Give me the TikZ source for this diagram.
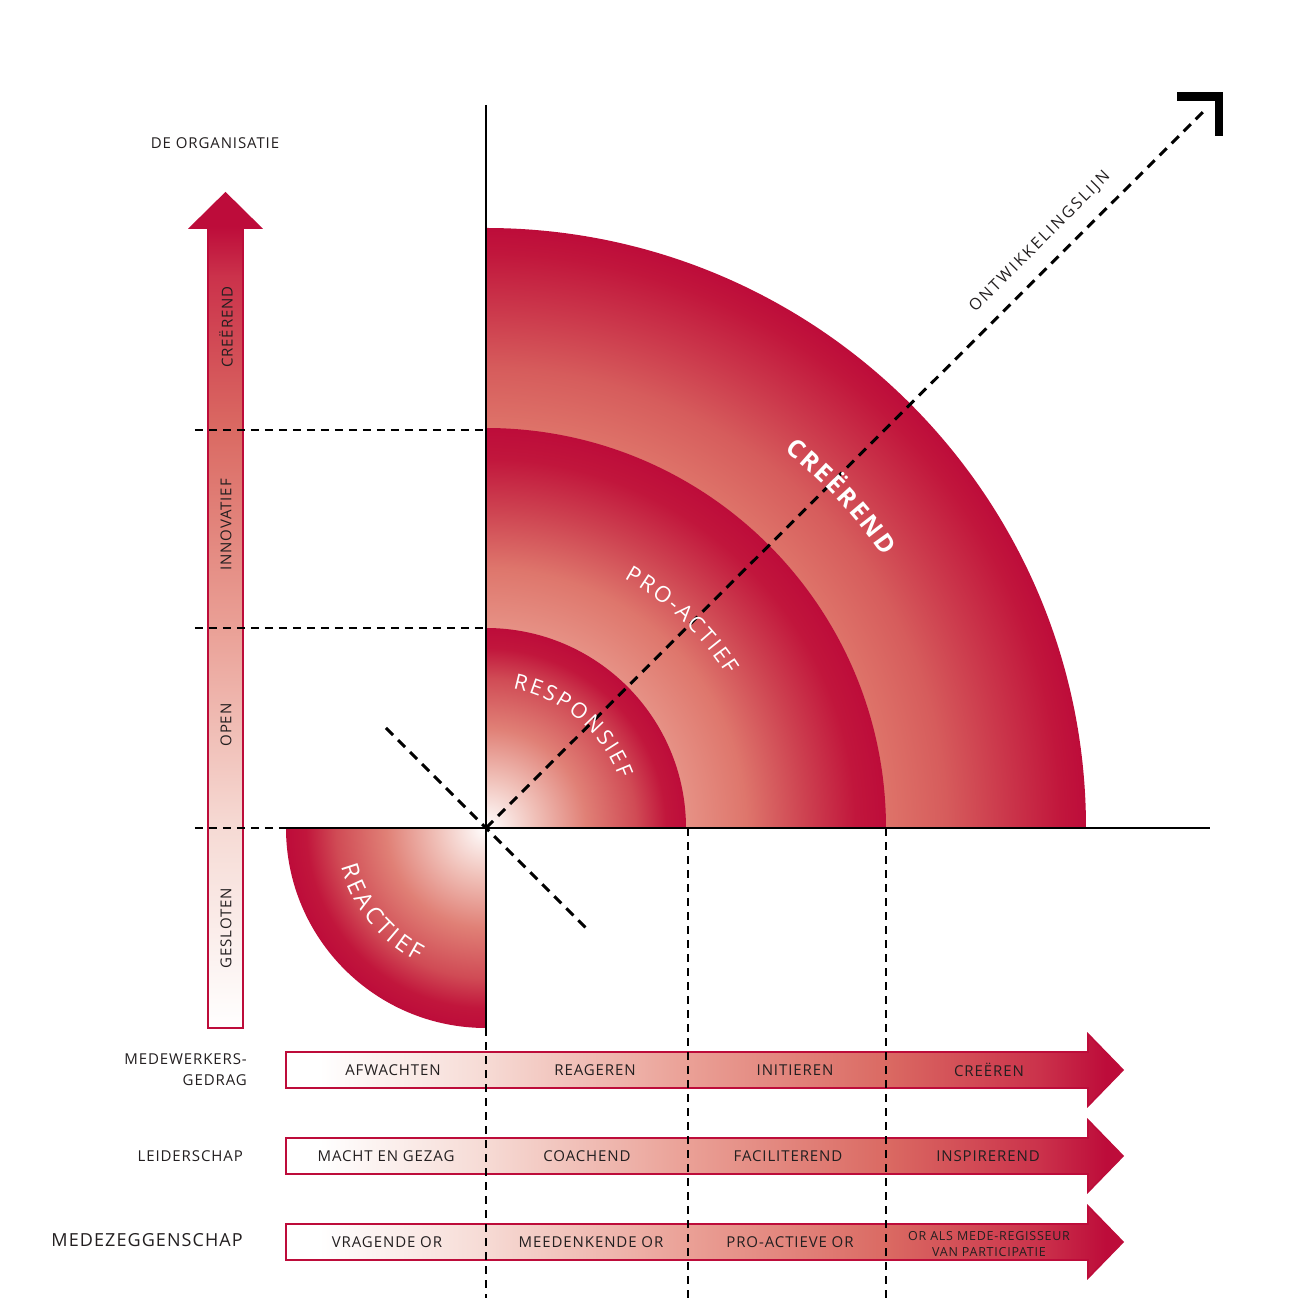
\documentclass[tikz,border=0pt]{standalone}
\usepackage{fontspec}
\setmainfont{Open Sans}
\newfontfamily\lab{Open Sans}[LetterSpace=6]
\newfontfamily\labw{Open Sans}[LetterSpace=14]
\newfontfamily\ringfnt{Open Sans}

\definecolor{crim}{RGB}{189,12,58}
\definecolor{crimb}{RGB}{193,22,60}
\definecolor{txt}{RGB}{35,31,32}
\definecolor{rra}{RGB}{240,192,184}
\definecolor{rrb}{RGB}{224,128,118}
\definecolor{rrc}{RGB}{208,75,85}
\definecolor{ppa}{RGB}{230,145,133}
\definecolor{ppb}{RGB}{222,118,108}
\definecolor{ppc}{RGB}{205,65,80}
\definecolor{cca}{RGB}{222,115,105}
\definecolor{ccb}{RGB}{214,92,92}
\definecolor{ccc}{RGB}{203,55,75}
\definecolor{rda}{RGB}{203,50,75}
\definecolor{hpa}{RGB}{246,218,212}
\definecolor{hpb}{RGB}{234,160,150}
\definecolor{hpc}{RGB}{218,105,98}

\pgfdeclareradialshading{ringR}{\pgfpointorigin}{color(0bp)=(white); color(6.25bp)=(rra); color(12.5bp)=(rrb); color(18.75bp)=(rrc); color(22.5bp)=(crimb); color(25bp)=(crim); color(50bp)=(crim)}
\pgfdeclareradialshading{ringP}{\pgfpointorigin}{color(0bp)=(ppa); color(12.5bp)=(ppa); color(16.25bp)=(ppb); color(20bp)=(ppc); color(23.1bp)=(crimb); color(25bp)=(crim); color(50bp)=(crim)}
\pgfdeclareradialshading{ringC}{\pgfpointorigin}{color(0bp)=(cca); color(16.67bp)=(cca); color(19.17bp)=(ccb); color(21.67bp)=(ccc); color(23.96bp)=(crimb); color(25bp)=(crim); color(50bp)=(crim)}
\pgfdeclarehorizontalshading{harr}{100bp}{color(0bp)=(white); color(27bp)=(white); color(37bp)=(hpa); color(49bp)=(hpb); color(61bp)=(hpc); color(70bp)=(rda); color(74bp)=(crim); color(100bp)=(crim)}
\pgfdeclareverticalshading{varr}{100bp}{color(0bp)=(white); color(25bp)=(white); color(37bp)=(hpa); color(49bp)=(hpb); color(61bp)=(hpc); color(70bp)=(rda); color(73bp)=(crim); color(100bp)=(crim)}

% letters along an arc: #1 name, #2 baseline radius, #3 centre angle, #4 sign (-1 clockwise),
% #5 tracking, #6 rotation offset, #7 style, #8 list letter/width(1/1000 em); font size in \arcfs
\newcommand\arcword[8]{%
  \xdef\arctot{0}%
  \foreach \L/\W in {#8} {\pgfmathsetmacro\arctmp{\arctot+\W/1000*\arcfs+#5}\xdef\arctot{\arctmp}}%
  \pgfmathsetmacro\arctmp{\arctot-#5}\xdef\arctot{\arctmp}%
  \pgfmathsetmacro\arctmp{#3-(#4)*(\arctot/2)/#2*57.29578}\xdef\arcstart{\arctmp}%
  \xdef\arcpos{0}%
  \foreach \L/\W [count=\k] in {#8} {%
    \pgfmathsetmacro\arcmid{\arcpos+\W/2000*\arcfs}%
    \pgfmathsetmacro\arcang{\arcstart+(#4)*\arcmid/#2*57.29578}%
    \node[#7, anchor=base, rotate=\arcang+#6] (#1\k) at (\arcang:#2) {\L};%
    \pgfmathsetmacro\arctmp{\arcpos+\W/1000*\arcfs+#5}%
    \xdef\arcpos{\arctmp}%
  }%
}

\begin{document}
\begin{tikzpicture}[x=1pt,y=1pt,
  lbl/.style={font=\lab\fontsize{15}{21}\selectfont, text=txt, inner sep=0pt},
  bigl/.style={font=\lab\fontsize{18}{21}\selectfont, text=txt, inner sep=0pt},
  albl/.style={font=\lab\fontsize{15}{17}\selectfont, text=txt, inner sep=0pt},
  dlbl/.style={font=\labw\fontsize{16}{17}\selectfont, text=txt, inner sep=0pt},
  small/.style={font=\lab\fontsize{12.5}{16}\selectfont, text=txt, inner sep=0pt, align=center},
  rlA/.style={font=\ringfnt\fontsize{21.5}{24}\selectfont, text=white, inner sep=0pt},
  rlB/.style={font=\ringfnt\fontsize{22}{24}\selectfont, text=white, inner sep=0pt},
  rlC/.style={font=\ringfnt\bfseries\fontsize{25}{28}\selectfont, text=white, inner sep=0pt},
  rlD/.style={font=\ringfnt\fontsize{23.5}{26}\selectfont, text=white, inner sep=0pt},
  thindash/.style={line width=1.6pt, dash pattern=on 8pt off 6pt},
  thickdash/.style={line width=3pt, dash pattern=on 10pt off 7pt},
  axis/.style={line width=2.6pt, black},
  arrowbox/.style={shading=harr, draw=crim, line width=1.6pt},
]
\useasboundingbox[fill=white] (-486,-470) rectangle (810,828);

% rings
\begin{scope}
  \clip (0,0) -- (600,0) arc[start angle=0, end angle=90, radius=600] -- cycle;
  \shade[shading=ringC] (-600,-600) rectangle (600,600);
\end{scope}
\begin{scope}
  \clip (0,0) -- (400,0) arc[start angle=0, end angle=90, radius=400] -- cycle;
  \shade[shading=ringP] (-400,-400) rectangle (400,400);
\end{scope}
\begin{scope}
  \clip (0,0) -- (200,0) arc[start angle=0, end angle=90, radius=200] -- cycle;
  \shade[shading=ringR] (-200,-200) rectangle (200,200);
\end{scope}
\begin{scope}
  \clip (0,0) -- (-200,0) arc[start angle=180, end angle=270, radius=200] -- cycle;
  \shade[shading=ringR] (-200,-200) rectangle (200,200);
\end{scope}

% left vertical arrow
\shadedraw[shading=varr, draw=crim, line width=1.6pt]
  (-278,-200) -- (-243,-200) -- (-243,600) -- (-225,600) -- (-260.5,635) -- (-296,600) -- (-278,600) -- cycle;

% bottom arrows
\foreach \c in {-242,-328,-414} {
  \shadedraw[arrowbox] (-200,\c-18) -- (602,\c-18) -- (602,\c-36) -- (637,\c) -- (602,\c+36) -- (602,\c+18) -- (-200,\c+18) -- cycle;
}

% dashed guide lines
\coordinate (h3a) at (-291,398); \coordinate (h3b) at (0,398);
\coordinate (h2a) at (-291,200); \coordinate (h2b) at (0,200);
\coordinate (h1a) at (-291,0);   \coordinate (h1b) at (-200,0);
\draw[thindash] (h3a) -- (h3b);
\draw[thindash] (h2a) -- (h2b);
\draw[thindash] (h1a) -- (h1b);
\coordinate (v0a) at (0,-200);   \coordinate (v0b) at (0,-470);
\coordinate (v1a) at (202,0);    \coordinate (v1b) at (202,-470);
\coordinate (v2a) at (400,0);    \coordinate (v2b) at (400,-470);
\draw[thindash] (v0a) -- (v0b);
\draw[thindash] (v1a) -- (v1b);
\draw[thindash] (v2a) -- (v2b);

% axes
\coordinate (O) at (0,0);
\coordinate (ytop) at (0,723);
\coordinate (ybot) at (0,-200);
\coordinate (xl) at (-200,0);
\coordinate (xr) at (724,0);
\draw[axis] (ytop) -- (ybot);
\draw[axis] (xl) -- (xr);

% diagonals
\coordinate (dend) at (721,720);
\coordinate (ca) at (-100,100);
\coordinate (cb) at (100,-100);
\draw[thickdash] (O) -- (dend);
\draw[thickdash] (ca) -- (cb);
\coordinate (m1) at (691,731.5);
\coordinate (m2) at (733,731.5);
\coordinate (m3) at (733,692);
\draw[line width=8.5pt, miter limit=10] (m1) -- (m2) -- (m3);

% ring labels
\def\arcfs{21.5}
\arcword{resp}{142}{49.7}{-1}{2.4}{-90}{rlA}{R/648,E/556,S/549,P/603,O/787,N/754,S/549,I/279,E/556,F/519}
\def\arcfs{22}
\arcword{proa}{285}{46.7}{-1}{2.3}{-90}{rlB}{P/603,R/648,O/787,-/322,A/633,C/631,T/556,I/279,E/556,F/519}
\def\arcfs{25}
\arcword{cree}{481}{43}{-1}{2.2}{-90}{rlC}{C/639,R/666,E/561,Ë/561,R/666,E/561,N/815,D/743}
\def\arcfs{23.5}
\arcword{reac}{150}{218.8}{1}{3.2}{90}{rlD}{R/648,E/556,A/633,C/631,T/556,I/279,E/556,F/519}

% diagonal label
\node[dlbl, rotate=45] (ontw) at (554,586) {ONTWIKKELINGSLIJN};

% left texts
\node[lbl] (org) at (-271,685) {DE ORGANISATIE};
\node[albl, rotate=90] (v1) at (-260,501) {CREËREND};
\node[albl, rotate=90] (v2) at (-260,303) {INNOVATIEF};
\node[albl, rotate=90] (v3) at (-260,103) {OPEN};
\node[albl, rotate=90] (v4) at (-260,-100) {GESLOTEN};

\node[lbl, anchor=east, align=right] (r1) at (-239,-242) {MEDEWERKERS-\\GEDRAG};
\node[lbl, anchor=east] (r2) at (-243,-328) {LEIDERSCHAP};
\node[bigl, anchor=east] (r3) at (-243,-412) {MEDEZEGGENSCHAP};

% arrow texts
\node[lbl] (a11) at (-93,-242) {AFWACHTEN};
\node[lbl] (a12) at (109,-242) {REAGEREN};
\node[lbl] (a13) at (309,-242) {INITIEREN};
\node[lbl] (a14) at (503,-242) {CREËREN};
\node[lbl] (a21) at (-100,-328) {MACHT EN GEZAG};
\node[lbl] (a22) at (101,-328) {COACHEND};
\node[lbl] (a23) at (302,-328) {FACILITEREND};
\node[lbl] (a24) at (502,-328) {INSPIREREND};
\node[lbl] (a31) at (-99,-414) {VRAGENDE OR};
\node[lbl] (a32) at (105,-414) {MEEDENKENDE OR};
\node[lbl] (a33) at (304,-414) {PRO-ACTIEVE OR};
\node[small] (a34) at (503,-416) {OR ALS MEDE-REGISSEUR\\VAN PARTICIPATIE};
\end{tikzpicture}
\end{document}
